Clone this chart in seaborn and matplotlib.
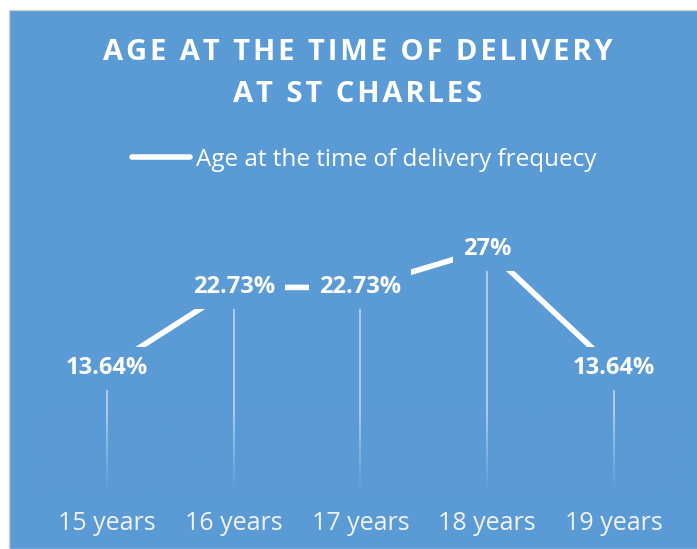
import numpy as np
import pandas as pd
import matplotlib
matplotlib.use("Agg")
import matplotlib.pyplot as plt
from matplotlib.patches import Rectangle
from matplotlib.colors import to_rgb
import seaborn as sns

ages = ["15 years", "16 years", "17 years", "18 years", "19 years"]
freq = [13.64, 22.73, 22.73, 27, 13.64]
value_labels = ["13.64%", "22.73%", "22.73%", "27%", "13.64%"]
series_name = "Age at the time of delivery frequecy"
title_lines = ["AGE AT THE TIME OF DELIVERY", "AT ST CHARLES"]

PANEL = "#5B9BD5"


def spaced(s):
    # mimic the wide letter spacing of the title
    return "\u200a".join(s)


def main():
    sns.set_theme(style="white")
    plt.rcParams["font.family"] = ["Open Sans", "DejaVu Sans"]

    fig = plt.figure(figsize=(6.97, 5.49), dpi=100)
    fig.patches.append(Rectangle((9 / 697, 0), 1, (549 - 10) / 549,
                                 transform=fig.transFigure, facecolor=PANEL,
                                 edgecolor="#D0D0D0", lw=1, zorder=-1))

    ax = fig.add_axes([0.0626, 0.1075, 0.909, 0.487])
    ax.set_facecolor("none")

    df = pd.DataFrame({"age": ages, "freq": freq})
    x = np.arange(len(ages))

    # drop lines
    ax.vlines(x, 0, df["freq"], color="white", alpha=0.55, lw=1.3, zorder=1)
    # fade the bottom of the drop lines
    rgb = to_rgb(PANEL)
    grad = np.zeros((100, 1, 4))
    grad[:, 0, :3] = rgb
    grad[:, 0, 3] = np.linspace(1, 0, 100)
    ax.imshow(grad, extent=(-0.5, 4.5, 0, 9), origin="lower", aspect="auto", zorder=1.5)

    sns.lineplot(x=x, y=df["freq"], ax=ax, color="white", lw=4,
                 label=series_name, zorder=2)

    for xi, v, s in zip(x, freq, value_labels):
        ax.text(xi, v, s, ha="center", va="center", color="white", fontsize=17,
                fontweight="bold", zorder=3,
                bbox=dict(boxstyle="square,pad=0.42", facecolor=PANEL, edgecolor="none"))

    ax.set_xlim(-0.5, 4.5)
    ax.set_ylim(0, 30)
    ax.set_xticks(x, ages)
    ax.set_yticks([])
    ax.set_xlabel("")
    ax.set_ylabel("")
    ax.tick_params(axis="x", length=0, pad=15, labelsize=18, labelcolor="#F2F2F2")
    sns.despine(ax=ax, left=True, bottom=True)

    ax.legend(loc="center", bbox_to_anchor=(364 / 697, 1 - 160 / 549),
              bbox_transform=fig.transFigure, frameon=False, labelcolor="white",
              fontsize=17.5, handlelength=2.4, handletextpad=0.25)

    fig.text(358 / 697, 1 - 52 / 549, spaced(title_lines[0]), ha="center", va="center",
             color="white", fontsize=21, fontweight="bold")
    fig.text(358 / 697, 1 - 94 / 549, spaced(title_lines[1]), ha="center", va="center",
             color="white", fontsize=21, fontweight="bold")

    fig.savefig("out.png", dpi=100, facecolor="white")


if __name__ == "__main__":
    main()
